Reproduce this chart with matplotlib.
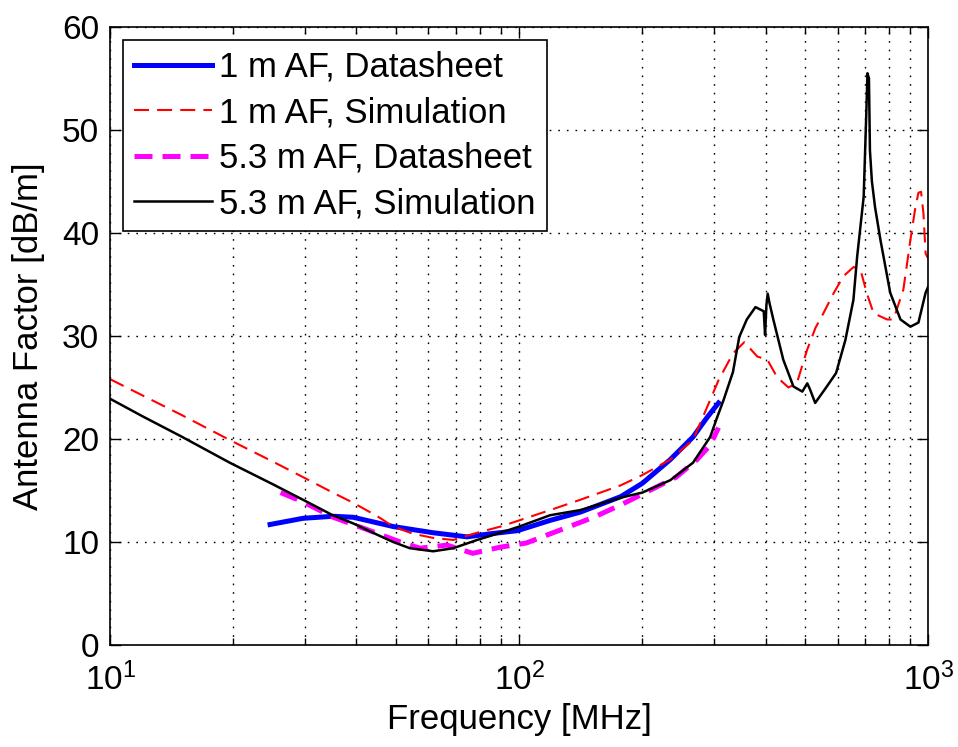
import numpy as np
import matplotlib
matplotlib.use('Agg')
import matplotlib.pyplot as plt
from matplotlib.ticker import LogLocator, NullFormatter

plt.rcParams['font.family'] = ['Liberation Sans', 'DejaVu Sans']
plt.rcParams['mathtext.fontset'] = 'custom'
plt.rcParams['mathtext.rm'] = 'Liberation Sans'

# 1 m AF, datasheet
f_1m_ds = [24.6, 29.6, 35.1, 39.3, 49.2, 61.6, 74.5, 85, 99, 119, 141, 177, 200, 234, 266, 288, 307]
af_1m_ds = [11.7, 12.3, 12.5, 12.4, 11.5, 10.9, 10.5, 10.8, 11.1, 12.1, 12.9, 14.4, 15.7, 18.0, 20.2, 22.1, 23.5]

# 1 m AF, simulation
f_1m_sim = [10, 15, 19.6, 25, 29.6, 35, 39.3, 45, 49.2, 55, 61.6, 69, 78.9, 90, 100, 119, 141, 177,
            200, 234, 266, 288, 307, 333, 355, 382, 404, 427, 455, 477, 505, 530, 554, 586, 620, 657,
            683, 708, 735, 793, 822, 869, 904, 930, 946, 960, 973, 985, 1000]
af_1m_sim = [25.8, 22.3, 19.9, 17.8, 16.3, 14.8, 13.8, 12.5, 11.5, 10.8, 10.4, 10.2, 10.9, 11.5, 12.1, 13.1, 14.1, 15.5,
             16.5, 18.0, 19.9, 23.1, 25.7, 28.3, 29.4, 28.0, 27.7, 26.0, 25.0, 25.4, 28.6, 30.8, 32.2, 34.1, 35.8, 36.7,
             36.4, 34.1, 32.2, 31.6, 31.6, 34.5, 39.3, 42.5, 43.9, 44.0, 41.9, 38.0, 37.5]

# 5.3 m AF, datasheet
f_53m_ds = [26.1, 29.6, 35.1, 42.5, 51.2, 57.2, 66.6, 77, 89.9, 104, 121, 152, 177, 206, 242, 272, 293, 307]
af_53m_ds = [14.8, 13.9, 12.4, 11.2, 10.0, 9.4, 9.7, 8.9, 9.5, 9.9, 10.9, 12.4, 13.6, 14.9, 16.3, 18.0, 19.4, 21.1]

# 5.3 m AF, simulation
f_53m_sim = [10, 12, 15, 19.6, 25, 29.6, 35, 39.3, 45, 49.2, 54, 61.6, 69, 78.9, 90, 100, 119, 141, 177,
             200, 234, 266, 293, 304, 316, 333, 345, 360, 378, 396, 399, 402, 405, 409, 418, 442, 468,
             492, 506, 514, 529, 565, 595, 627, 656, 670, 695, 705, 710, 716, 720, 728, 741, 764, 807,
             855, 904, 946, 985, 1000]
af_53m_sim = [23.9, 22.2, 20.2, 17.7, 15.6, 14.1, 12.6, 11.8, 10.7, 10.0, 9.4, 9.1, 9.4, 10.2, 10.9, 11.5, 12.6, 13.1, 14.3,
              14.8, 16.0, 17.7, 20.2, 22.0, 23.8, 26.5, 29.9, 31.6, 32.8, 32.4, 30.1, 33.0, 34.1, 33.2, 31.6, 27.7, 25.1,
              24.6, 25.4, 24.8, 23.5, 25.1, 26.4, 29.6, 33.5, 37.7, 43.5, 51.3, 55.5, 55.0, 48.0, 45.0, 42.5, 39.3, 34.2,
              31.6, 30.9, 31.3, 34.2, 34.8]

fig = plt.figure(figsize=(9.58, 7.47), dpi=100)
ax = fig.add_axes([0.115, 0.1365, 0.854, 0.8275])

ax.semilogx(f_1m_ds, af_1m_ds, color='blue', lw=3.6, label='1 m AF, Datasheet')
ax.semilogx(f_1m_sim, af_1m_sim, color='red', lw=1.5, dashes=(7.2, 3.9), label='1 m AF, Simulation')
ax.semilogx(f_53m_ds, af_53m_ds, color='magenta', lw=3.6, dashes=(3.6, 2.0), label='5.3 m AF, Datasheet')
ax.semilogx(f_53m_sim, af_53m_sim, color='black', lw=1.8, label='5.3 m AF, Simulation')

ax.set_xlim(10, 1000)
ax.set_ylim(0, 60)
ax.set_yticks(range(0, 61, 10))
ax.xaxis.set_minor_locator(LogLocator(base=10, subs=np.arange(2, 10)))
ax.xaxis.set_minor_formatter(NullFormatter())

grid_ls = (0, (1.2, 5))
ax.grid(True, which='major', axis='both', color='black', lw=1.0, linestyle=grid_ls)
ax.grid(True, which='minor', axis='x', color='black', lw=1.0, linestyle=grid_ls)

ax.tick_params(which='both', direction='in', top=True, right=True, labelsize=24, width=1)
ax.tick_params(which='major', length=8)
ax.tick_params(which='minor', length=5)
ax.tick_params(axis='x', pad=13)
ax.tick_params(axis='y', pad=8)
for s in ax.spines.values():
    s.set_linewidth(1.2)

ax.set_xlabel('Frequency [MHz]', fontsize=25, labelpad=4)
ax.set_ylabel('Antenna Factor [dB/m]', fontsize=25, labelpad=12)

leg = ax.legend(loc='upper left', fontsize=25, frameon=True, fancybox=False,
                edgecolor='black', framealpha=1, handlelength=2.25, handletextpad=0.2,
                labelspacing=0.36, borderpad=0.32, borderaxespad=0.37)
leg.get_frame().set_linewidth(1.2)

plt.savefig('out.png', dpi=100)
